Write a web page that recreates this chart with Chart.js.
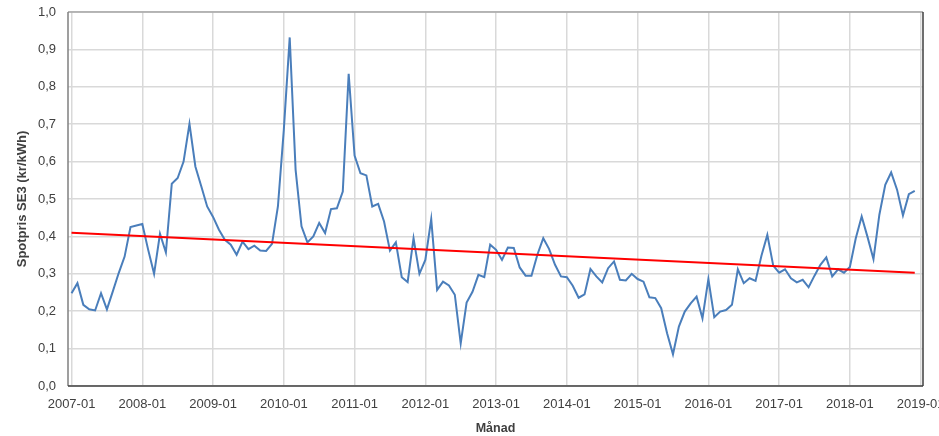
<!DOCTYPE html>
<html>
<head>
<meta charset="utf-8">
<script src="https://cdn.jsdelivr.net/npm/chart.js@4.4.1/dist/chart.umd.min.js"></script>
<style>
  html, body { margin: 0; padding: 0; background: #ffffff; overflow: hidden; }
  #wrap { width: 939px; height: 436px; }
</style>
</head>
<body>
<div id="wrap"><canvas id="c" width="939" height="436"></canvas></div>
<script>
// Monthly spot price SE3 (kr/kWh), 2007-01 .. 2018-12
const firstYear = 2007;
const spotPrice = [
  0.248, 0.275, 0.217, 0.205, 0.202, 0.248, 0.205, 0.253, 0.302, 0.346, 0.425, 0.429, // 2007
  0.433, 0.364, 0.300, 0.407, 0.357, 0.541, 0.556, 0.600, 0.701, 0.587, 0.534, 0.480, // 2008
  0.452, 0.418, 0.391, 0.378, 0.351, 0.386, 0.366, 0.375, 0.362, 0.361, 0.380, 0.480, // 2009
  0.685, 0.932, 0.578, 0.427, 0.384, 0.400, 0.436, 0.409, 0.473, 0.475, 0.520, 0.835, // 2010
  0.616, 0.569, 0.563, 0.480, 0.487, 0.440, 0.362, 0.384, 0.291, 0.278, 0.395, 0.300, // 2011
  0.337, 0.446, 0.257, 0.279, 0.269, 0.244, 0.114, 0.223, 0.252, 0.297, 0.291, 0.378, // 2012
  0.364, 0.337, 0.370, 0.369, 0.317, 0.295, 0.295, 0.351, 0.395, 0.366, 0.324, 0.293, // 2013
  0.291, 0.268, 0.236, 0.245, 0.313, 0.293, 0.277, 0.315, 0.333, 0.284, 0.282, 0.300, // 2014
  0.286, 0.279, 0.237, 0.235, 0.208, 0.141, 0.085, 0.159, 0.199, 0.221, 0.239, 0.181, // 2015
  0.286, 0.184, 0.199, 0.203, 0.217, 0.312, 0.275, 0.288, 0.281, 0.348, 0.404, 0.322, // 2016
  0.303, 0.312, 0.288, 0.277, 0.284, 0.264, 0.295, 0.324, 0.344, 0.293, 0.312, 0.303, // 2017
  0.318, 0.395, 0.453, 0.398, 0.339, 0.458, 0.538, 0.571, 0.525, 0.456, 0.513, 0.522  // 2018
];

// Linear trend line: value at first and last month
const trendEnds = [0.410, 0.303];

// Tick labels along the month axis (one per year)
const yearTicks = ['2007-01', '2008-01', '2009-01', '2010-01', '2011-01', '2012-01',
                   '2013-01', '2014-01', '2015-01', '2016-01', '2017-01', '2018-01', '2019-01'];

// Month labels, index 0 = 2007-01
const months = [];
for (let i = 0; i <= spotPrice.length; i++) {
  const y = firstYear + Math.floor(i / 12);
  const m = (i % 12) + 1;
  months.push(y + '-' + (m < 10 ? '0' + m : m));
}

const spotPoints = spotPrice.map((v, i) => ({ x: i, y: v }));
const trendPoints = [
  { x: 0, y: trendEnds[0] },
  { x: spotPrice.length - 1, y: trendEnds[1] }
];
const tickIndex = yearTicks.map(l => months.indexOf(l));

const FONT = "'Liberation Sans', Arial, sans-serif";

// Frame lines around the plot area
const frame = {
  id: 'frame',
  afterDatasetsDraw(chart) {
    const { ctx, chartArea: a } = chart;
    ctx.save();
    ctx.lineWidth = 1.5;
    ctx.strokeStyle = '#a6a6a6';
    ctx.beginPath();
    ctx.moveTo(a.left, a.top);
    ctx.lineTo(a.right, a.top);
    ctx.stroke();
    ctx.strokeStyle = '#7f7f7f';
    ctx.beginPath();
    ctx.moveTo(a.left, a.top);
    ctx.lineTo(a.left, a.bottom);
    ctx.stroke();
    ctx.strokeStyle = '#404040';
    ctx.beginPath();
    ctx.moveTo(a.left, a.bottom);
    ctx.lineTo(a.right, a.bottom);
    ctx.moveTo(a.right, a.top);
    ctx.lineTo(a.right, a.bottom);
    ctx.stroke();
    ctx.restore();
  }
};

new Chart(document.getElementById('c'), {
  type: 'line',
  data: {
    datasets: [
      {
        label: 'Trend',
        data: trendPoints,
        borderColor: '#ff0000',
        borderWidth: 2,
        pointRadius: 0,
        fill: false,
        order: 0
      },
      {
        label: 'Spotpris SE3',
        data: spotPoints,
        borderColor: '#4a7ebb',
        borderWidth: 2,
        pointRadius: 0,
        tension: 0,
        fill: false,
        order: 1
      }
    ]
  },
  options: {
    responsive: false,
    animation: false,
    devicePixelRatio: 1,
    layout: { padding: { left: 0, right: 16, top: 12, bottom: 0 } },
    plugins: {
      legend: { display: false },
      tooltip: { enabled: false }
    },
    scales: {
      x: {
        type: 'linear',
        min: -0.6,
        max: 144.4,
        afterBuildTicks(scale) {
          scale.ticks = tickIndex.map(v => ({ value: v }));
        },
        afterFit(scale) {
          scale.height = 50;
          scale.paddingLeft = 0;
          scale.paddingRight = 0;
        },
        grid: { color: '#d9d9d9', lineWidth: 1.5, drawTicks: false },
        border: { display: false },
        ticks: {
          autoSkip: false,
          maxRotation: 0,
          padding: 11,
          color: '#404040',
          font: { family: FONT, size: 13 },
          callback: (v) => months[v]
        },
        title: {
          display: true,
          text: 'Månad',
          color: '#404040',
          font: { family: FONT, size: 12.5, weight: 'bold' },
          padding: { top: 0, bottom: 0 }
        }
      },
      y: {
        min: 0,
        max: 1,
        afterFit(scale) {
          scale.width = 68;
          scale.paddingTop = 0;
          scale.paddingBottom = 0;
        },
        grid: { color: '#d9d9d9', lineWidth: 1.5, drawTicks: false },
        border: { display: false },
        ticks: {
          stepSize: 0.1,
          padding: 12,
          color: '#404040',
          font: { family: FONT, size: 13 },
          callback: (v) => v.toFixed(1).replace('.', ',')
        },
        title: {
          display: true,
          text: 'Spotpris SE3 (kr/kWh)',
          color: '#404040',
          font: { family: FONT, size: 13, weight: 'bold' },
          padding: { top: 15, bottom: 0 }
        }
      }
    }
  },
  plugins: [frame]
});
</script>
</body>
</html>
